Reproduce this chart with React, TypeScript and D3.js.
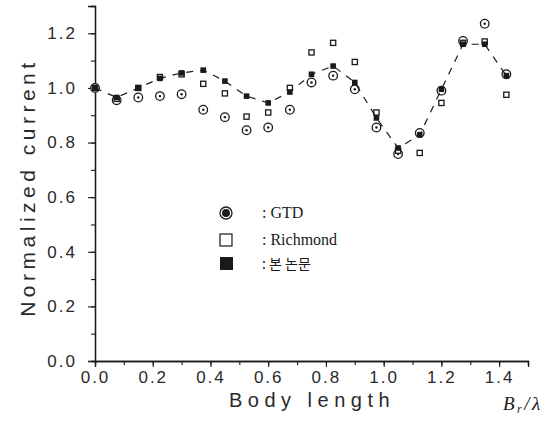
import React, { useEffect, useRef } from 'react';
import * as d3 from 'd3';

// Body length B_r / lambda
const bodyLength = [0, 0.075, 0.15, 0.225, 0.3, 0.375, 0.45, 0.525, 0.6, 0.675, 0.75, 0.825, 0.9, 0.975, 1.05, 1.125, 1.2, 1.275, 1.35, 1.425];
const gtd = [1.0, 0.955, 0.965, 0.97, 0.977, 0.92, 0.893, 0.845, 0.855, 0.92, 1.02, 1.045, 0.995, 0.855, 0.758, 0.835, 0.99, 1.172, 1.235, 1.05];
const richmond = [1.0, 0.96, 1.0, 1.04, 1.05, 1.015, 0.98, 0.895, 0.91, 1.0, 1.13, 1.165, 1.095, 0.91, 0.77, 0.762, 0.945, 1.165, 1.17, 0.975];
const present = [1.0, 0.965, 1.0, 1.035, 1.055, 1.065, 1.025, 0.97, 0.945, 0.985, 1.05, 1.08, 1.02, 0.89, 0.78, 0.828, 0.995, 1.16, 1.16, 1.045];

const yTicks = [0, 0.2, 0.4, 0.6, 0.8, 1.0, 1.2];
const xTicks = [0, 0.2, 0.4, 0.6, 0.8, 1.0, 1.2, 1.4];
const legendLabels = [': GTD', ': Richmond', ': 본 논문'];

function BodyLengthChart() {
  const ref = useRef<SVGSVGElement>(null);

  useEffect(() => {
    const width = 558;
    const height = 428;
    const svg = d3.select(ref.current);
    svg.selectAll('*').remove();

    const x = d3.scaleLinear().domain([0, 1.5]).range([95, 528]);
    const y = d3.scaleLinear().domain([0, 1.3]).range([361, 6]);
    const ink = '#1a1a1a';
    const sans = "'Liberation Sans', Arial, sans-serif";
    const serif = "'Liberation Serif', 'Times New Roman', serif";

    // axes
    const gx = svg.append('g').attr('transform', `translate(0,${y(0)})`);
    gx.call(d3.axisBottom(x).tickValues(d3.range(0, 1.51, 0.1)).tickSize(4).tickFormat(() => ''));
    gx.append('g').call(d3.axisBottom(x).tickValues(xTicks).tickSize(6).tickPadding(4).tickFormat(d3.format('.1f')));

    const gy = svg.append('g').attr('transform', `translate(${x(0)},0)`);
    gy.call(d3.axisLeft(y).tickValues(d3.range(0, 1.31, 0.1)).tickSize(4).tickFormat(() => ''));
    gy.append('g').call(d3.axisLeft(y).tickValues(yTicks).tickSize(7).tickPadding(11).tickFormat(d3.format('.1f')));

    svg.selectAll('.domain').attr('stroke', ink).attr('stroke-width', 1.3);
    svg.selectAll('.tick line').attr('stroke', ink).attr('stroke-width', 1.1);
    svg.selectAll('.tick text')
      .attr('fill', '#2a2a2a')
      .style('font-family', sans)
      .style('font-size', '17px')
      .style('letter-spacing', '2px');

    // axis titles
    svg.append('text')
      .attr('transform', `translate(35,${y(0.635)}) rotate(-90)`)
      .attr('text-anchor', 'middle')
      .attr('fill', '#2a2a2a')
      .style('font-family', sans)
      .style('font-size', '21px')
      .style('letter-spacing', '4.5px')
      .text('Normalized current');

    svg.append('text')
      .attr('x', 312)
      .attr('y', 407)
      .attr('text-anchor', 'middle')
      .attr('fill', '#2a2a2a')
      .style('font-family', sans)
      .style('font-size', '20px')
      .style('letter-spacing', '5.5px')
      .text('Body length');

    const br = svg.append('text')
      .attr('x', 503)
      .attr('y', 410)
      .attr('fill', ink)
      .style('font-family', serif)
      .style('font-style', 'italic')
      .style('font-size', '19px')
      .style('letter-spacing', '2.5px');
    br.append('tspan').text('B');
    br.append('tspan').attr('font-size', '12px').attr('dy', 3).text('r');
    br.append('tspan').attr('dy', -3).text('/λ');

    // GTD: circles with centre dot
    const g1 = svg.append('g');
    bodyLength.forEach((b, i) => {
      g1.append('circle').attr('cx', x(b)).attr('cy', y(gtd[i])).attr('r', 4.3)
        .attr('fill', 'white').attr('stroke', ink).attr('stroke-width', 1.3);
      g1.append('circle').attr('cx', x(b)).attr('cy', y(gtd[i])).attr('r', 1.2).attr('fill', ink);
    });

    // Richmond: open squares
    svg.append('g').selectAll('rect')
      .data(richmond)
      .join('rect')
      .attr('x', (d, i) => x(bodyLength[i]) - 2.6)
      .attr('y', d => y(d) - 2.6)
      .attr('width', 5.2)
      .attr('height', 5.2)
      .attr('fill', 'white')
      .attr('stroke', ink)
      .attr('stroke-width', 1.3);

    // present paper: dashed line + filled squares
    const line = d3.line<number>().x((d, i) => x(bodyLength[i])).y(d => y(d));
    svg.append('path')
      .attr('d', line(present))
      .attr('fill', 'none')
      .attr('stroke', ink)
      .attr('stroke-width', 1.2)
      .attr('stroke-dasharray', '7,7');

    svg.append('g').selectAll('rect')
      .data(present)
      .join('rect')
      .attr('x', (d, i) => x(bodyLength[i]) - 2.8)
      .attr('y', d => y(d) - 2.8)
      .attr('width', 5.6)
      .attr('height', 5.6)
      .attr('fill', ink);

    // legend
    const lg = svg.append('g');
    const ly = [213, 240, 264];
    lg.append('circle').attr('cx', 226).attr('cy', ly[0]).attr('r', 6).attr('fill', 'white').attr('stroke', ink).attr('stroke-width', 1.3);
    lg.append('circle').attr('cx', 226).attr('cy', ly[0]).attr('r', 4).attr('fill', ink);
    lg.append('rect').attr('x', 220).attr('y', ly[1] - 6).attr('width', 12).attr('height', 12)
      .attr('fill', 'white').attr('stroke', ink).attr('stroke-width', 1.2);
    lg.append('rect').attr('x', 220).attr('y', ly[2] - 7).attr('width', 13).attr('height', 13).attr('fill', ink);
    legendLabels.forEach((t, i) => {
      lg.append('text')
        .attr('x', 262)
        .attr('y', ly[i] + 5)
        .attr('fill', ink)
        .style('font-family', i === 2 ? "'Noto Sans CJK KR', sans-serif" : serif)
        .style('font-size', i === 2 ? '14px' : '16px')
        .text(t);
    });

    svg.attr('width', width).attr('height', height);
  }, []);

  return <svg ref={ref} width={558} height={428} style={{ position: 'absolute', left: 0, top: 0, background: 'white' }}></svg>;
}

export default function App() {
  return <BodyLengthChart />;
}
